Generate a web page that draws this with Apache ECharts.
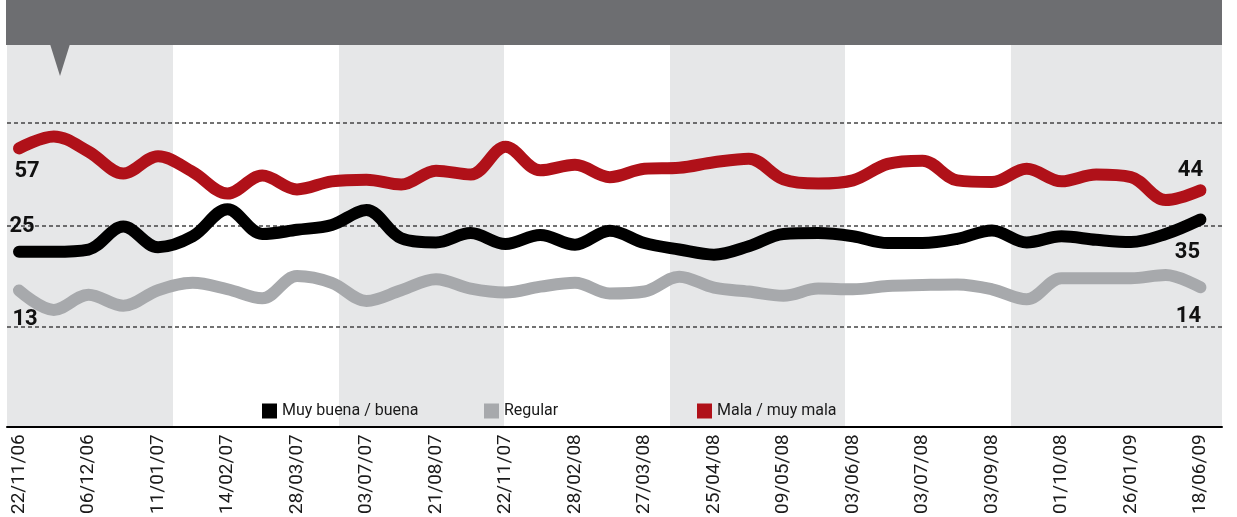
<!DOCTYPE html>
<html>
<head>
<meta charset="utf-8">
<script src="https://cdn.jsdelivr.net/npm/echarts@6/dist/echarts.min.js"></script>
<style>
  html, body { margin: 0; padding: 0; background: #fff; }
  #chart { width: 1237px; height: 517px; }
</style>
</head>
<body>
<div id="chart"></div>
<script>
// fechas del eje (una etiqueta por encuesta)
const fechas = ['22/11/06', '06/12/06', '11/01/07', '14/02/07', '28/03/07', '03/07/07', '21/08/07', '22/11/07', '28/02/08',
  '27/03/08', '25/04/08', '09/05/08', '03/06/08', '03/07/08', '03/09/08', '01/10/08', '26/01/09', '18/06/09'];

// valores leidos cada media fecha
const mala = [57, 60.7, 56, 49.2, 54.6, 49.7, 43, 48.6, 44.3, 46.8, 47.3, 45.8, 50.1, 48.9, 57.5, 50.2, 51.9, 48.1,
  50.7, 51, 52.7, 53.8, 47.4, 46.1, 47.1, 52.2, 53.2, 47.1, 46.6, 50.7, 46.8, 48.9, 48.1, 41, 44];
const buena = [25, 25, 25.7, 32.8, 26.4, 29.8, 38.2, 30.5, 31.8, 33.3, 37.9, 29.2, 27.9, 30.8, 27.4, 30.2, 27.2, 31.5,
  27.7, 25.7, 24.1, 26.7, 30.5, 30.8, 29.8, 27.7, 27.7, 29, 31.6, 27.9, 29.8, 28.7, 28, 30.5, 35];
const regular = [13, 7, 11.7, 8.3, 13.1, 15.4, 13.4, 10.6, 17.5, 15.4, 9.8, 13.1, 16.5, 13.6, 12.4, 14.2, 15.4, 12.1,
  12.7, 17.3, 13.9, 12.7, 11.4, 13.6, 13.4, 14.4, 14.7, 14.9, 13.4, 10.3, 16.8, 16.8, 16.8, 17.8, 14];

const nombres = ['Muy buena / buena', 'Regular', 'Mala / muy mala'];
const colores = ['#000000', '#a7a9ac', '#b01119'];

const chart = echarts.init(document.getElementById('chart'));

// [x, y] con x en unidades de fecha
function puntos(vals) {
  return vals.map((v, i) => [i / 2, v]);
}

// etiqueta de inicio y fin de cada linea
function extremos(vals, offIni, offFin) {
  const last = vals.length - 1;
  const lbl = (off) => ({
    show: true, position: 'inside', offset: off,
    fontFamily: 'Roboto', fontWeight: 'bold', fontSize: 22, color: '#111'
  });
  return {
    symbol: 'circle', symbolSize: 0, silent: true,
    data: [
      { coord: [0, vals[0]], value: Math.round(vals[0]), label: lbl(offIni) },
      { coord: [last / 2, vals[last]], value: Math.round(vals[last]), label: lbl(offFin) }
    ]
  };
}

function linea(nombre, color, vals, offIni, offFin) {
  return {
    name: nombre,
    type: 'line',
    data: puntos(vals),
    smooth: 0.35,
    showSymbol: false,
    z: 5,
    color: color,
    lineStyle: { width: 12, color: color, cap: 'round', join: 'round' },
    markPoint: extremos(vals, offIni, offFin)
  };
}

const legendBase = {
  top: 398,
  icon: 'rect',
  itemWidth: 15,
  itemHeight: 15,
  itemStyle: { borderWidth: 0 },
  textStyle: { fontFamily: 'Roboto', fontSize: 16, color: '#1a1a1a' },
  selectedMode: false
};

const option = {
  animation: false,
  backgroundColor: '#ffffff',
  grid: { left: 7, right: 15, top: 45, bottom: 87 },
  xAxis: {
    type: 'value',
    min: -0.173,
    max: 17.31,
    z: 8,
    axisLine: { show: true, onZero: false, lineStyle: { color: '#000', width: 2 } },
    axisTick: { show: false },
    splitLine: { show: false },
    axisLabel: {
      customValues: fechas.map((f, i) => i),
      formatter: (v) => fechas[Math.round(v)],
      rotate: 90,
      margin: 8,
      fontFamily: 'Roboto',
      fontSize: 19,
      color: '#1a1a1a'
    }
  },
  yAxis: {
    type: 'value',
    min: -29,
    max: 89,
    show: false,
    splitLine: { show: false }
  },
  legend: [
    Object.assign({}, legendBase, { left: 257, data: [nombres[0]] }),
    Object.assign({}, legendBase, { left: 479, data: [nombres[1]] }),
    Object.assign({}, legendBase, { left: 692, data: [nombres[2]] })
  ],
  graphic: [
    { type: 'rect', shape: { x: 6, y: 0, width: 1216, height: 45 }, style: { fill: '#6d6e71' }, z: 10 },
    { type: 'polygon', shape: { points: [[50, 44], [70, 44], [60, 76]] }, style: { fill: '#6d6e71' }, z: 10 }
  ],
  series: [
    {
      // fondo: bandas y lineas de referencia
      type: 'line',
      data: [],
      z: 1,
      silent: true,
      markArea: {
        silent: true,
        itemStyle: { color: '#e6e7e8' },
        data: [
          [{ xAxis: -0.173 }, { xAxis: 2.216 }],
          [{ xAxis: 4.604 }, { xAxis: 6.978 }],
          [{ xAxis: 9.367 }, { xAxis: 11.885 }],
          [{ xAxis: 14.273 }, { xAxis: 17.31 }]
        ]
      },
      markLine: {
        silent: true,
        symbol: 'none',
        label: { show: false },
        lineStyle: { color: '#444', width: 1.5, type: [4, 3] },
        data: [{ yAxis: 65 }, { yAxis: 33.2 }, { yAxis: 1.7 }]
      }
    },
    linea(nombres[2], colores[2], mala, [8, 23], [-10, -20]),
    linea(nombres[1], colores[1], regular, [6, 29], [-12, 29]),
    linea(nombres[0], colores[0], buena, [3, -25], [-13, 33])
  ]
};

chart.setOption(option);
</script>
</body>
</html>
